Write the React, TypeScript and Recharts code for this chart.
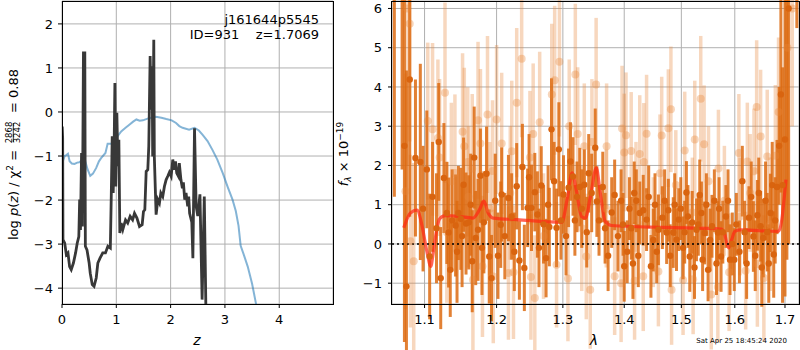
import React from 'react';
import { ComposedChart, Line, Scatter, ErrorBar, XAxis, YAxis, CartesianGrid, ReferenceLine } from 'recharts';

const FONT = 'DejaVu Sans, sans-serif';

// left panel: chi2 curve (blue) and log p(z) (dark)
const chi2Curve: [number, number][] = [
  [0.005, -1.45], [0.02, -1.1], [0.05, -1.0], [0.08, -0.98], [0.11, -0.95], [0.14, -1.12], [0.18, -1.17],
  [0.23, -1.18], [0.28, -1.15], [0.32, -1.14], [0.37, -1.1], [0.42, -1.08], [0.47, -1.3], [0.52, -1.45],
  [0.57, -1.4], [0.63, -1.27], [0.68, -1.12], [0.72, -1.05], [0.8, -0.93], [0.84, -0.72], [0.91, -0.72],
  [1.0, -0.59], [1.09, -0.44], [1.17, -0.36], [1.24, -0.29], [1.31, -0.22], [1.37, -0.17], [1.43, -0.2],
  [1.49, -0.19], [1.6, -0.14], [1.73, -0.11], [1.83, -0.13], [1.92, -0.16], [2.02, -0.19], [2.1, -0.25],
  [2.16, -0.32], [2.22, -0.36], [2.34, -0.4], [2.44, -0.36], [2.52, -0.42], [2.59, -0.52], [2.68, -0.66],
  [2.77, -0.86], [2.86, -1.08], [2.96, -1.39], [3.05, -1.7], [3.14, -1.99], [3.2, -2.25], [3.25, -2.58],
  [3.29, -3.04], [3.35, -3.25], [3.42, -3.51], [3.5, -3.9], [3.57, -4.34], [3.62, -4.7],
];

const logPz: [number, number][] = [
  [0.004, -0.33], [0.012, -0.6], [0.018, -2.9], [0.05, -2.98], [0.08, -3.24], [0.11, -3.2], [0.14, -3.51],
  [0.17, -3.58], [0.21, -3.43], [0.25, -3.2], [0.28, -2.98], [0.31, -2.83], [0.325, -1.99], [0.34, -2.68],
  [0.36, -0.93], [0.375, -2.6], [0.395, 1.34], [0.42, 1.34], [0.43, -3.05], [0.46, -3.13], [0.5, -3.43],
  [0.52, -3.66], [0.557, -3.92], [0.59, -3.96], [0.63, -3.77], [0.66, -3.43], [0.7, -3.32], [0.75, -3.2],
  [0.8, -3.2], [0.845, -3.05], [0.89, -3.09], [0.906, -1.99], [0.925, -0.55], [0.943, -1.84], [0.96, -0.78],
  [0.974, 0.66], [0.99, -1.69], [1.01, -0.02], [1.03, -1.23], [1.047, -0.63], [1.065, -2.75], [1.09, -2.52],
  [1.12, -2.67], [1.17, -2.45], [1.21, -2.52], [1.255, -2.37], [1.3, -2.45], [1.335, -2.3], [1.38, -2.41],
  [1.427, -2.6], [1.476, -2.56], [1.5, -2.26], [1.525, -2.22], [1.55, -1.35], [1.58, -1.31], [1.598, -0.78],
  [1.623, 1.27], [1.64, 0.05], [1.66, 1.04], [1.67, -1.01], [1.69, 1.64], [1.7, -1.01], [1.733, -2.33],
  [1.764, -1.99], [1.794, -2.07], [1.82, -1.84], [1.855, -1.92], [1.886, -1.69], [1.917, -1.54],
  [1.947, -1.46], [1.978, -1.37], [2.01, -1.46], [2.04, -1.08], [2.064, -1.31], [2.09, -1.12],
  [2.113, -1.39], [2.143, -1.46], [2.16, -1.16], [2.19, -1.54], [2.217, -1.73], [2.235, -1.6], [2.26, -1.99],
  [2.284, -1.84], [2.315, -2.14], [2.333, -1.92], [2.35, -2.3], [2.39, -2.5], [2.41, -3.32], [2.44, -0.37],
  [2.47, -2.14], [2.5, -2.36], [2.54, -1.87], [2.58, -4.26], [2.62, -1.92], [2.65, -4.5], [2.67, -5.2],
];

const zTicks = [0, 1, 2, 3, 4];
const pzTicks = [-4, -3, -2, -1, 0, 1, 2];

// right panel: spectrum points [lambda, flux, err]
const fluxPoints: [number, number, number][] = [
  [1.0606, 8, 6.8], [1.0706, 7, 5.1], [1.0736, 2.5, 5], [1.0762, -1.08, 5.5], [1.0805, 4.19, 3.5],
  [1.088, 2.19, 2.0], [1.0944, 2.09, 2.5], [1.098, 0.9, 1.6], [1.103, 1.9, 1.5], [1.1068, -0.32, 1.6],
  [1.1107, 1.2, 1.4], [1.116, 0.4, 1.4], [1.119, 2.6, 1.5], [1.1217, -0.87, 1.3],
  [1.126, 1.68, 1.4], [1.13, 0.79, 1.3], [1.1324, 0.29, 1.4], [1.1347, -0.66, 1.2], [1.1372, 0.6, 1.3],
  [1.142, 0.47, 1.3], [1.144, -0.2, 1.3], [1.1459, 0.79, 1.2], [1.1492, 0.64, 1.3], [1.151, 0.2, 1.3],
  [1.1531, 1.51, 1.2], [1.1565, 0.52, 1.3], [1.1604, 0.55, 1.2], [1.163, 1.0, 1.3], [1.1652, -0.44, 1.3],
  [1.168, 2.2, 1.3], [1.1701, 0.15, 1.2], [1.1734, 0.36, 1.3], [1.1768, 1.74, 1.2], [1.179, -0.1, 1.2],
  [1.1817, 0.55, 1.3], [1.1855, 1.79, 1.2], [1.1894, -0.32, 1.2], [1.1927, -0.87, 1.1], [1.198, 1.1, 1.2],
  [1.202, -0.3, 1.1], [1.206, 0.49, 1.1], [1.2074, 1.26, 1.2], [1.212, 0.2, 1.1], [1.2173, 1.17, 1.1],
  [1.222, 0.7, 1.1], [1.226, -0.2, 1.0], [1.2295, 1.47, 1.1], [1.2335, -0.42, 1.0], [1.238, 1.96, 1.1],
  [1.2409, -0.61, 1.1], [1.2458, 0.92, 1.0], [1.248, 1.7, 1.1], [1.2517, 0.92, 1.1], [1.2567, 1.32, 1.0],
  [1.2606, 0.75, 1.1], [1.263, -0.1, 1.0], [1.2665, 1.49, 1.0], [1.27, 0.5, 1.0], [1.2739, -0.36, 1.0],
  [1.277, 1.0, 1.0], [1.2789, 0.43, 1.0], [1.2823, 2.92, 1.3], [1.2863, 1.6, 1.0], [1.2901, 0.41, 1.0],
  [1.2937, 2.41, 1.2], [1.297, 0.6, 1.0], [1.301, 1.26, 1.0], [1.305, 0.2, 1.0], [1.309, 1.43, 1.0],
  [1.312, 2.1, 1.0], [1.316, 1.72, 1.0], [1.319, 0.6, 0.9], [1.3224, 1.2, 0.9], [1.3268, 1.45, 1.0],
  [1.33, 0.9, 1.0], [1.3341, 1.51, 0.9], [1.338, 0.3, 0.9], [1.3412, 1.8, 1.0], [1.346, 1.3, 1.0],
  [1.3518, 2.45, 1.0], [1.3545, 1.08, 0.9], [1.358, 0.6, 0.9], [1.3642, 1.45, 0.9], [1.368, 0.4, 0.9],
  [1.373, -0.3, 0.9], [1.379, 0.8, 0.9], [1.3839, 1.25, 0.9], [1.3894, 0.2, 0.9], [1.3947, 1.1, 0.8],
  [1.398, 0.5, 0.8], [1.4, -0.57, 0.9], [1.405, -0.2, 0.8], [1.4088, 0.9, 0.8], [1.412, 0.4, 0.8],
  [1.4148, -0.5, 0.9], [1.417, 1.3, 0.8], [1.4206, 1.1, 0.8], [1.424, -0.3, 0.8], [1.4265, 0.79, 0.8],
  [1.4325, 0.86, 0.9], [1.4383, 0.62, 0.8], [1.442, 1.2, 0.8], [1.4459, -0.57, 0.8], [1.45, 0.1, 0.8],
  [1.453, 1.0, 0.8], [1.456, -0.2, 0.8], [1.459, 0.36, 0.9], [1.466, 0.67, 0.8], [1.47, 1.1, 0.8],
  [1.4736, 0.29, 0.8], [1.4766, 0.86, 0.8], [1.48, -0.3, 0.8], [1.4854, 0.29, 0.9], [1.488, 1.0, 0.8],
  [1.4912, 0.11, 0.8], [1.4953, 0.62, 0.8], [1.499, 0.9, 0.8], [1.5031, -0.1, 0.8], [1.506, 0.3, 0.8],
  [1.5092, 1.31, 0.8], [1.512, 0.7, 0.8], [1.5153, -0.32, 0.9], [1.5197, 0.55, 0.8], [1.524, -0.6, 0.8],
  [1.5276, 0.36, 0.8], [1.531, 0.5, 0.8], [1.5337, 1.25, 0.9], [1.5368, 0.79, 0.8], [1.539, -0.4, 0.8],
  [1.5429, 0.28, 0.8], [1.546, 1.0, 0.8], [1.5492, -0.66, 0.8], [1.553, 0.1, 0.8], [1.5565, 0.45, 0.8],
  [1.561, 1.1, 0.8], [1.565, -0.5, 0.8], [1.5676, 0.29, 0.8], [1.57, 0.9, 0.8], [1.5737, -0.32, 0.9],
  [1.577, 0.3, 0.8], [1.5829, 0.7, 0.8], [1.587, 1.1, 0.8], [1.5908, -0.4, 0.9], [1.5952, 0.0, 0.8],
  [1.599, -0.4, 0.8], [1.603, 0.5, 0.8], [1.609, -0.2, 0.8], [1.6146, 1.6, 0.9], [1.619, 0.3, 0.8],
  [1.623, -0.5, 0.9], [1.6276, 0.67, 0.8], [1.632, 1.2, 0.9], [1.6363, 0.19, 0.9], [1.64, -0.3, 0.9],
  [1.6442, 0.73, 0.9], [1.647, 1.3, 0.9], [1.6507, 0.45, 0.9], [1.653, -0.6, 1.0], [1.656, 0.15, 1.0],
  [1.6606, 1.1, 1.0], [1.664, 0.3, 1.0], [1.667, -0.5, 1.0], [1.6704, 0.79, 1.0], [1.674, 1.5, 1.1],
  [1.677, -0.27, 1.1], [1.68, 0.6, 1.1], [1.6837, 1.45, 1.2], [1.688, 2.5, 1.5], [1.6916, 3.81, 2.5],
  [1.695, 1.5, 3], [1.7, 2.66, 4], [1.7039, 7, 7.4], [1.7075, 6, 6], [1.7245, 8, 2.5],
];

// faint points (other exposures)
const fluxPointsFaint: [number, number, number][] = [
  [1.0749, 1.34, 3], [1.0771, 6.0, 4], [1.0805, 5.61, 3], [1.0814, 0.07, 2.2], [1.0857, -0.44, 2.5],
  [1.1043, 3.13, 2.0], [1.1107, 2.92, 2.2], [1.1179, 2.7, 2.0], [1.1202, 2.2, 2.0], [1.1275, 3.85, 2.3],
  [1.13, 0.3, 1.8], [1.1362, 1.6, 2.0], [1.1411, 1.81, 2.0], [1.1517, 2.86, 2.0], [1.1541, 2.49, 2.0],
  [1.1589, 2.09, 1.9], [1.16, 1.2, 1.8], [1.1652, 1.92, 1.9], [1.1662, -0.91, 1.8], [1.1734, 3.15, 2.0],
  [1.1768, 2.56, 1.9], [1.1797, -0.57, 1.8], [1.1869, 3.3, 2.0], [1.19, 0.9, 1.7], [1.1941, 1.86, 1.8],
  [1.1952, -0.83, 1.7], [1.2, 3.17, 1.9], [1.2074, 2.56, 1.8], [1.2173, -0.74, 1.7], [1.22, 1.3, 1.7],
  [1.2222, 2.36, 1.8], [1.2247, -0.72, 1.7], [1.2295, 3.6, 1.9], [1.2369, 4.72, 2.0], [1.2493, 2.2, 1.7],
  [1.2508, -0.84, 1.6], [1.2542, 2.8, 1.8], [1.2567, -1.38, 1.6], [1.2641, 3.1, 1.8], [1.27, 0.2, 1.6],
  [1.2827, 3.81, 1.8], [1.2872, 4.17, 1.9], [1.2901, -0.53, 1.6], [1.2946, 4.64, 1.9], [1.308, -0.88, 1.6],
  [1.31, 3.0, 1.7], [1.3197, 4.32, 1.8], [1.3235, 2.8, 1.7], [1.33, 0.4, 1.6], [1.3341, 2.49, 1.6],
  [1.3373, -0.32, 1.6], [1.3437, -1.17, 1.5], [1.3464, 2.6, 1.6], [1.3533, 4.06, 1.7], [1.37, 0.9, 1.5],
  [1.3705, 2.49, 1.6], [1.3839, -0.82, 1.5], [1.3947, -1.0, 1.5], [1.3963, 2.94, 1.6], [1.4, 2.33, 1.5],
  [1.403, 2.77, 1.6], [1.4118, 2.37, 1.5], [1.4176, -0.94, 1.5], [1.42, 1.2, 1.4], [1.4265, 2.29, 1.5],
  [1.4325, -0.82, 1.4], [1.4335, 2.09, 1.5], [1.4383, 2.81, 1.5], [1.45, 0.3, 1.4], [1.459, -0.7, 1.4],
  [1.4618, 1.8, 1.5], [1.4648, 2.76, 1.5], [1.4766, 2.95, 1.5], [1.4812, 3.43, 1.6], [1.4824, -1.17, 1.4],
  [1.49, 1.5, 1.4], [1.5031, -0.92, 1.4], [1.5061, 2.38, 1.5], [1.52, 0.8, 1.4], [1.5215, -0.9, 1.4],
  [1.5245, 2.66, 1.5], [1.5355, 3.7, 1.6], [1.5418, 2.54, 1.5], [1.55, 1.6, 1.4], [1.5552, -1.29, 1.4],
  [1.5676, -1.1, 1.4], [1.5687, 1.92, 1.5], [1.58, 1.1, 1.4], [1.589, -0.72, 1.5], [1.6079, 2.32, 1.5],
  [1.61, 0.7, 1.5], [1.6211, -0.68, 1.5], [1.6244, 2.1, 1.5], [1.63, 1.3, 1.5], [1.6375, 1.85, 1.6],
  [1.6428, 3.49, 1.7], [1.6442, -0.51, 1.6], [1.6507, 2.74, 1.7], [1.6572, -0.87, 1.6], [1.6639, 2.23, 1.7],
  [1.67, 0.5, 1.7], [1.6803, 2.25, 1.8], [1.6868, 3.36, 1.9], [1.705, 5, 4], [1.715, 6, 3],
];

const modelCurve: [number, number][] = [
  [1.0727, 0.41], [1.0814, 0.79], [1.0901, 0.86], [1.0966, 0.47], [1.1035, -0.23], [1.1083, -0.57],
  [1.1116, -0.23], [1.1155, 0.28], [1.1202, 0.64], [1.1275, 0.72], [1.1469, 0.7], [1.1662, 0.66],
  [1.1759, 0.89], [1.1817, 1.09], [1.1879, 0.79], [1.1952, 0.66], [1.2295, 0.62], [1.2985, 0.55],
  [1.3066, 1.13], [1.3146, 1.81], [1.3215, 1.35], [1.3295, 0.7], [1.336, 0.66], [1.344, 1.21],
  [1.3536, 1.94], [1.3601, 1.3], [1.3681, 0.58], [1.3789, 0.47], [1.4706, 0.42], [1.5737, 0.38],
  [1.5798, 0.28], [1.5879, -0.1], [1.594, 0.11], [1.6, 0.32], [1.6112, 0.36], [1.6868, 0.32],
  [1.6935, 0.62], [1.698, 1.13], [1.702, 1.64],
];

const lamTicks = [1.1, 1.2, 1.3, 1.4, 1.5, 1.6, 1.7];
const fluxTicks = [-1, 0, 1, 2, 3, 4, 5, 6];

const fmt = (v: number) => (v < 0 ? '\u2212' + Math.abs(v) : String(v));
const tickStyle = { fill: '#000', fontSize: 13, fontFamily: FONT };

const xy = (pts: [number, number][]) => pts.map(([x, y]) => ({ x, y }));
const xye = (pts: [number, number, number][]) => pts.map(([x, y, err]) => ({ x, y, err }));

const Dot = (color: string, r: number) => (p: any) => <circle cx={p.cx} cy={p.cy} r={r} fill={color} />;

export default function App() {
  return (
    <div style={{ position: 'absolute', left: 0, top: 0, width: 800, height: 350, background: '#fff', fontFamily: FONT }}>
      <div style={{ position: 'absolute', left: 0, top: 0 }}>
        <ComposedChart width={340} height={350} margin={{ top: 1, right: 7, bottom: 0, left: 0 }}>
          <CartesianGrid stroke="#b0b0b0" strokeWidth={1} />
          <XAxis type="number" dataKey="x" domain={[0, 4.99]} ticks={zTicks} allowDataOverflow height={46}
            tickSize={4} tickMargin={7} axisLine={false} tickLine={{ stroke: '#000' }} tick={tickStyle} />
          <YAxis type="number" dataKey="y" domain={[-4.36, 2.52]} ticks={pzTicks} allowDataOverflow width={62}
            tickSize={4} tickMargin={5} axisLine={false} tickLine={{ stroke: '#000' }} tick={tickStyle} tickFormatter={fmt} />
          <Line data={xy(chi2Curve)} dataKey="y" type="linear" stroke="#1f77b4" strokeOpacity={0.55} strokeWidth={2}
            dot={false} isAnimationActive={false} />
          <Line data={xy(logPz)} dataKey="y" type="linear" stroke="#383838" strokeWidth={2.8}
            dot={false} isAnimationActive={false} />
        </ComposedChart>
      </div>

      <div style={{ position: 'absolute', left: 340, top: 0 }}>
        <ComposedChart width={460} height={350} margin={{ top: 1, right: 1, bottom: 0, left: 0 }}>
          <CartesianGrid stroke="#b0b0b0" strokeWidth={1} />
          <XAxis type="number" dataKey="x" scale="log" domain={[1.0576, 1.729]} ticks={lamTicks} allowDataOverflow
            height={46} tickSize={4} tickMargin={7} axisLine={false} tickLine={{ stroke: '#000' }} tick={tickStyle} />
          <YAxis type="number" dataKey="y" domain={[-1.53, 6.19]} ticks={fluxTicks} allowDataOverflow width={52}
            tickSize={4} tickMargin={6} axisLine={false} tickLine={{ stroke: '#000' }} tick={tickStyle} tickFormatter={fmt} />
          <Scatter data={xye(fluxPointsFaint)} shape={Dot('rgba(232,135,58,0.35)', 4)} isAnimationActive={false}>
            <ErrorBar dataKey="err" direction="y" width={0} stroke="rgba(232,135,58,0.33)" strokeWidth={3.5} />
          </Scatter>
          <Scatter data={xye(fluxPoints)} shape={Dot('#d9640f', 3.2)} isAnimationActive={false}>
            <ErrorBar dataKey="err" direction="y" width={0} stroke="rgba(221,107,18,0.85)" strokeWidth={3} />
          </Scatter>
          <Line data={xy(modelCurve)} dataKey="y" type="monotone" stroke="rgba(255,40,20,0.72)" strokeWidth={3.2}
            dot={false} isAnimationActive={false} />
          <ReferenceLine y={0} stroke="#000" strokeWidth={1.6} strokeDasharray="2 3" />
        </ComposedChart>
      </div>

      {/* frames */}
      <div style={{ position: 'absolute', left: 62, top: 1, width: 272, height: 304, border: '1px solid #000', boxSizing: 'border-box', pointerEvents: 'none' }} />
      <div style={{ position: 'absolute', left: 391, top: 1, width: 409, height: 304, border: '1px solid #000', boxSizing: 'border-box', pointerEvents: 'none' }} />

      <svg width={800} height={350} style={{ position: 'absolute', left: 0, top: 0, pointerEvents: 'none' }} fontFamily={FONT}>
        <text x={319} y={24} fontSize={13} textAnchor="end">j161644p5545</text>
        <text x={319} y={39} fontSize={13} textAnchor="end" style={{ whiteSpace: 'pre' }}>{'ID=931    z=1.7069'}</text>

        <g transform="translate(13,154) rotate(-90)">
          <text x={-86} y={4.5} fontSize={13}>
            log <tspan fontStyle="italic">p</tspan>(<tspan fontStyle="italic">z</tspan>) / χ
            <tspan dy={-5} fontSize={9}>2</tspan>
            <tspan dy={5}> =</tspan>
          </text>
          <text x={21.5} y={-1.5} fontSize={8.5} textAnchor="middle">2868</text>
          <line x1={12} x2={31} y1={0.3} y2={0.3} stroke="#000" strokeWidth={0.8} />
          <text x={21.5} y={6.5} fontSize={8.5} textAnchor="middle">3242</text>
          <text x={41} y={4.5} fontSize={13}>= 0.88</text>
        </g>

        <g transform="translate(348,154) rotate(-90)">
          <text x={0} y={0} fontSize={13} textAnchor="middle">
            <tspan fontStyle="italic">f</tspan>
            <tspan dy={3} fontSize={9} fontStyle="italic">λ</tspan>
            <tspan dy={-3}> × 10</tspan>
            <tspan dy={-5} fontSize={9}>−19</tspan>
          </text>
        </g>

        <text x={197} y={345} fontSize={14} fontStyle="italic" textAnchor="middle">z</text>
        <text x={594} y={345} fontSize={14} fontStyle="italic" textAnchor="middle">λ</text>
        <text x={787} y={343} fontSize={7} textAnchor="end">Sat Apr 25 18:45:24 2020</text>
      </svg>
    </div>
  );
}
